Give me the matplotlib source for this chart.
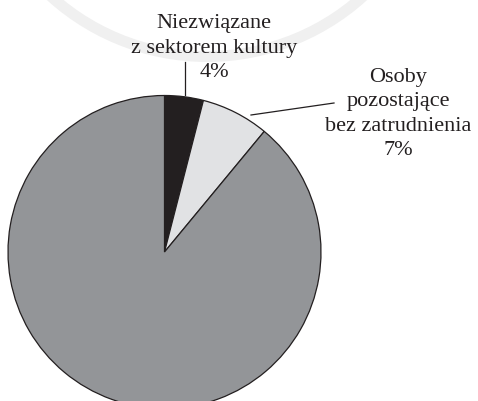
import matplotlib
matplotlib.use("Agg")
import matplotlib.pyplot as plt
from matplotlib.patches import Wedge

labels = ["Niezwiązane\nz sektorem kultury\n4%", "Osoby\npozostające\nbez zatrudnienia\n7%", ""]
values = [4, 7, 89]
colors = ["#231f20", "#e1e2e4", "#939598"]

W, H = 478, 402
fig = plt.figure(figsize=(W / 100, H / 100), dpi=100)
ax = fig.add_axes([0, 0, 1, 1])
ax.set_xlim(0, W)
ax.set_ylim(0, H)
ax.set_aspect("equal")
ax.axis("off")

# faint watermark ring
ring = Wedge((207, H + 175), 238, 180, 360, width=11, facecolor="#f0f0f0", edgecolor="none", zorder=0)
ax.add_patch(ring)

cx, cy, r = 164.5, H - 253, 156.5
ax.pie(values, colors=colors, startangle=90, counterclock=False,
       center=(cx, cy), radius=r, frame=True,
       wedgeprops=dict(edgecolor="#231f20", linewidth=0.9))
ax.set_xlim(0, W)
ax.set_ylim(0, H)
ax.axis("off")

font = dict(family="Liberation Serif", fontsize=16, color="#231f20",
            ha="center", va="center", linespacing=1.36)
ax.text(214, H - 48, labels[0], **font)
ax.text(398, H - 114, labels[1], **font)

ax.plot([185, 185], [H - 63, H - 96], color="#231f20", lw=0.9)
ax.plot([251, 334], [H - 116, H - 104], color="#231f20", lw=0.9)

fig.savefig("out.png", dpi=100)
